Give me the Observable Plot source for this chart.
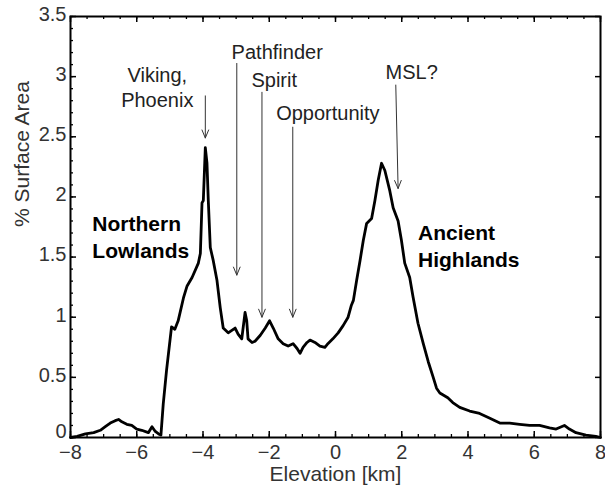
<!DOCTYPE html>
<html>
<head>
<meta charset="utf-8">
<script src="https://cdn.jsdelivr.net/npm/d3@7"></script>
<script src="https://cdn.jsdelivr.net/npm/@observablehq/plot@0.6"></script>
<style>
  body { margin: 0; background: #fff; }
  #chart svg { display: block; }
</style>
</head>
<body>
<div id="chart"></div>
<script>
// Hypsometry of Mars: share of surface area per elevation bin
const elevation = [
  -8.00, -7.80, -7.55, -7.30, -7.10, -6.95, -6.80, -6.65, -6.55, -6.45,
  -6.30, -6.15, -6.00, -5.85, -5.65, -5.54, -5.44, -5.34, -5.27, -5.20,
  -5.10, -4.95, -4.85, -4.75, -4.59, -4.48, -4.33, -4.14, -4.08, -4.03,
  -3.99, -3.93, -3.88, -3.84, -3.78, -3.69, -3.58, -3.48, -3.39, -3.24,
  -3.03, -2.94, -2.83, -2.73, -2.68, -2.64, -2.52, -2.43, -2.27, -2.12,
  -1.99, -1.88, -1.73, -1.58, -1.43, -1.28, -1.16, -1.07, -0.98, -0.86,
  -0.77, -0.62, -0.47, -0.32, -0.23, -0.08, 0.08, 0.23, 0.38, 0.48,
  0.54, 0.64, 0.74, 0.84, 0.94, 1.09, 1.19, 1.29, 1.39, 1.49,
  1.64, 1.74, 1.89, 1.99, 2.09, 2.24, 2.34, 2.49, 2.65, 2.80,
  2.95, 3.05, 3.15, 3.39, 3.54, 3.75, 4.05, 4.35, 4.66, 4.96,
  5.26, 5.56, 5.86, 6.16, 6.46, 6.66, 6.91, 7.06, 7.26, 7.56,
  7.86, 8.00
];
const surfaceArea = [
  0.00, 0.01, 0.03, 0.04, 0.06, 0.09, 0.12, 0.14, 0.15, 0.13,
  0.11, 0.10, 0.07, 0.06, 0.04, 0.09, 0.05, 0.03, 0.02, 0.28,
  0.56, 0.92, 0.90, 0.97, 1.16, 1.26, 1.33, 1.45, 1.53, 1.95,
  1.97, 2.41, 2.28, 1.97, 1.58, 1.47, 1.31, 1.08, 0.91, 0.87,
  0.91, 0.86, 0.82, 1.04, 0.97, 0.82, 0.79, 0.80, 0.85, 0.91,
  0.97, 0.91, 0.82, 0.78, 0.76, 0.78, 0.74, 0.70, 0.75, 0.79,
  0.81, 0.79, 0.76, 0.75, 0.78, 0.82, 0.87, 0.93, 1.00, 1.10,
  1.14, 1.31, 1.47, 1.64, 1.78, 1.82, 1.97, 2.14, 2.28, 2.22,
  2.05, 1.91, 1.80, 1.64, 1.45, 1.33, 1.17, 0.95, 0.78, 0.63,
  0.50, 0.41, 0.37, 0.33, 0.29, 0.25, 0.22, 0.20, 0.16, 0.12,
  0.12, 0.11, 0.10, 0.10, 0.08, 0.07, 0.10, 0.07, 0.04, 0.02,
  0.01, 0.00
];

// Axis ticks
const xTicks = [-8, -6, -4, -2, 0, 2, 4, 6, 8];
const yTicks = [0, 0.5, 1, 1.5, 2, 2.5, 3, 3.5];
const xMinorTicks = d3.range(-8, 8.001, 0.5);
const yMinorTicks = d3.range(0, 3.501, 0.1);
const xLabel = "Elevation [km]";
const yLabel = "% Surface Area";

// Landing sites: arrow from (x1, y1) down to (x2, y2)
const siteNames = ["Viking, Phoenix", "Pathfinder", "Spirit", "Opportunity", "MSL?"];
const siteX1 = [-3.93, -2.98, -2.22, -1.29, 1.82];
const siteY1 = [2.84, 3.11, 2.87, 2.58, 2.93];
const siteX2 = [-3.93, -2.98, -2.22, -1.29, 1.89];
const siteY2 = [2.49, 1.35, 1.00, 1.00, 2.07];

// Site captions
const captionText = ["Viking,", "Phoenix", "Pathfinder", "Spirit", "Opportunity", "MSL?"];
const captionX = [-5.38, -5.38, -1.76, -1.85, -0.23, 2.30];
const captionY = [3.01, 2.80, 3.20, 2.97, 2.69, 3.03];

// Region names
const regionText = ["Northern", "Lowlands", "Ancient", "Highlands"];
const regionX = [-7.34, -7.34, 2.49, 2.49];
const regionY = [1.77, 1.55, 1.70, 1.47];

const curve = elevation.map((e, i) => ({elevation: e, area: surfaceArea[i]}));
const arrows = siteNames.map((name, i) => ({name, x1: siteX1[i], y1: siteY1[i], x2: siteX2[i], y2: siteY2[i]}));
const captions = captionText.map((text, i) => ({text, x: captionX[i], y: captionY[i]}));
const regions = regionText.map((text, i) => ({text, x: regionX[i], y: regionY[i]}));

const W = 605, H = 489;
const mL = 70, mR = 5, mT = 16, mB = 52;
const innerW = W - mL - mR, innerH = H - mT - mB;
const font = "'Liberation Sans', Arial, Helvetica, sans-serif";
const fmt = d3.format("~g");
const yAxisStyle = {tickSize: 0, tickPadding: 4, fontSize: 20, fill: "#333", tickFormat: fmt, label: null};

const chart = Plot.plot({
  width: W,
  height: H,
  marginLeft: mL,
  marginRight: mR,
  marginTop: mT,
  marginBottom: mB,
  style: {fontFamily: font, background: "#fff", color: "#000", overflow: "visible"},
  x: {domain: [-8, 8]},
  y: {domain: [0, 3.5]},
  marks: [
    // tick labels; the zero label sits a little higher, clear of the x labels
    Plot.axisX(xTicks, {tickSize: 0, tickPadding: 7, fontSize: 20, fill: "#333", tickFormat: fmt, label: null}),
    Plot.axisY(yTicks.filter(d => d > 0), {...yAxisStyle, dy: -2}),
    Plot.axisY(yTicks.filter(d => d === 0), {...yAxisStyle, dy: -6}),
    // inward ticks: bottom and top
    Plot.tickX(xMinorTicks, {x: d => d, insetTop: innerH - 3, stroke: "#000", strokeWidth: 1.3}),
    Plot.tickX(xTicks, {x: d => d, insetTop: innerH - 6, stroke: "#000", strokeWidth: 1.5}),
    Plot.tickX(xMinorTicks, {x: d => d, insetBottom: innerH - 3, stroke: "#000", strokeWidth: 1.3}),
    Plot.tickX(xTicks, {x: d => d, insetBottom: innerH - 6, stroke: "#000", strokeWidth: 1.5}),
    // inward ticks: left and right
    Plot.tickY(yMinorTicks, {y: d => d, insetRight: innerW - 3, stroke: "#000", strokeWidth: 1.3}),
    Plot.tickY(yTicks, {y: d => d, insetRight: innerW - 6, stroke: "#000", strokeWidth: 1.5}),
    Plot.tickY(yTicks, {y: d => d, insetLeft: innerW - 5, stroke: "#000", strokeWidth: 1.5}),
    // axis titles
    Plot.text([xLabel], {frameAnchor: "bottom", dy: 43, text: d => d, fontSize: 21, fill: "#333"}),
    Plot.text([yLabel], {frameAnchor: "left", dx: -48, rotate: -90, text: d => d, fontSize: 21, fill: "#333"}),
    // landing-site arrows
    Plot.arrow(arrows, {x1: "x1", y1: "y1", x2: "x2", y2: "y2", stroke: "#333", strokeWidth: 1, headLength: 13, headAngle: 45}),
    Plot.text(captions, {x: "x", y: "y", text: "text", fontSize: 20, fill: "#222"}),
    Plot.text(regions, {x: "x", y: "y", text: "text", fontSize: 21, fontWeight: "bold", fill: "#000", textAnchor: "start"}),
    // hypsometric curve
    Plot.line(curve, {x: "elevation", y: "area", stroke: "#000", strokeWidth: 2.8, strokeLinejoin: "round"}),
    Plot.frame({stroke: "#000", strokeWidth: 2})
  ]
});

document.getElementById("chart").append(chart);
</script>
</body>
</html>
